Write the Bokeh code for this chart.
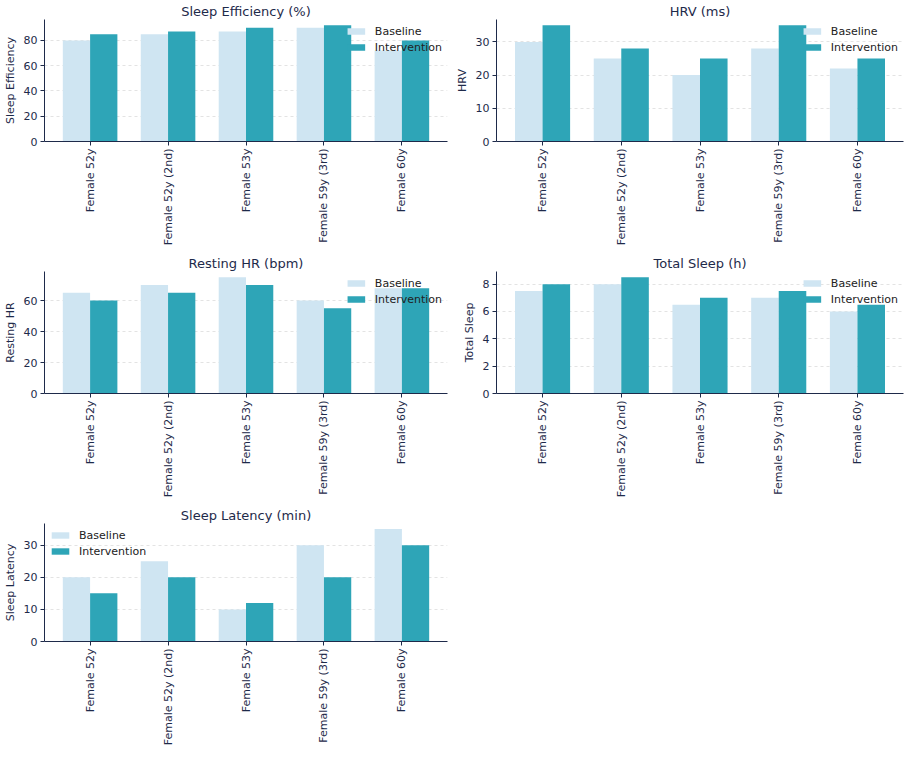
import math
import numpy as np
from bokeh.plotting import figure
from bokeh.layouts import gridplot
from bokeh.models import ColumnDataSource, FixedTicker, Range1d
from bokeh.embed import file_html
from bokeh.resources import INLINE

categories = ["Female 52y", "Female 52y (2nd)", "Female 53y", "Female 59y (3rd)", "Female 60y"]

eff_baseline = [80, 85, 87, 90, 72]
eff_intervention = [85, 87, 90, 92, 80]

hrv_baseline = [30, 25, 20, 28, 22]
hrv_intervention = [35, 28, 25, 35, 25]

hr_baseline = [65, 70, 75, 60, 68]
hr_intervention = [60, 65, 70, 55, 68]

sleep_baseline = [7.5, 8, 6.5, 7, 6]
sleep_intervention = [8, 8.5, 7, 7.5, 6.5]

lat_baseline = [20, 25, 10, 30, 35]
lat_intervention = [15, 20, 12, 20, 30]

eff_ticks = [0, 20, 40, 60, 80]
hrv_ticks = [0, 10, 20, 30]
hr_ticks = [0, 20, 40, 60]
sleep_ticks = [0, 2, 4, 6, 8]
lat_ticks = [0, 10, 20, 30]

BASE_COLOR = "#cfe5f2"
INT_COLOR = "#2ea5b7"
TEXT = "#1e2a4a"
FONT = "DejaVu Sans"
BAR_W = 0.35
PAD = 0.235


def panel(title, ylabel, base, inter, ticks, width, height, left, right, bottom, legend_loc):
    n = len(categories)
    idx = np.arange(n)
    ymax = max(max(base), max(inter)) * 1.05
    p = figure(width=width, height=height, output_backend="svg", toolbar_location=None,
               title=title,
               x_range=Range1d(-BAR_W - PAD, (n - 1) + BAR_W + PAD),
               y_range=Range1d(0, ymax),
               min_border_left=left, min_border_right=right, min_border_top=17,
               min_border_bottom=bottom)
    src = ColumnDataSource(dict(xb=idx - BAR_W / 2, xi=idx + BAR_W / 2, base=base, inter=inter))
    p.vbar(x="xb", top="base", width=BAR_W, source=src, fill_color=BASE_COLOR,
           line_color=None, legend_label="Baseline")
    p.vbar(x="xi", top="inter", width=BAR_W, source=src, fill_color=INT_COLOR,
           line_color=None, legend_label="Intervention")

    p.title.align = "center"
    p.title.text_font = FONT
    p.title.text_font_size = "13px"
    p.title.text_font_style = "normal"
    p.title.text_color = TEXT
    p.title.standoff = 2
    p.title.offset = 0

    p.outline_line_color = None
    p.xgrid.grid_line_color = None
    p.ygrid.grid_line_color = "#dcdcdc"
    p.ygrid.grid_line_dash = "3 3"
    p.ygrid.grid_line_alpha = 0.8
    p.ygrid.ticker = FixedTicker(ticks=ticks)

    p.xaxis.ticker = FixedTicker(ticks=list(range(n)))
    p.xaxis.major_label_overrides = {i: c for i, c in enumerate(categories)}
    p.xaxis.major_label_orientation = math.pi / 2
    p.yaxis.ticker = FixedTicker(ticks=ticks)
    p.yaxis.axis_label = ylabel

    for ax in (p.xaxis, p.yaxis):
        ax.axis_line_color = TEXT
        ax.major_tick_line_color = TEXT
        ax.minor_tick_line_color = None
        ax.major_tick_out = 4
        ax.major_tick_in = 0
        ax.major_label_text_font = FONT
        ax.major_label_text_font_size = "11px"
        ax.major_label_text_color = TEXT
        ax.major_label_standoff = 3
        ax.axis_label_text_font = FONT
        ax.axis_label_text_font_size = "11px"
        ax.axis_label_text_font_style = "normal"
        ax.axis_label_text_color = TEXT
        ax.axis_label_standoff = 4

    lg = p.legend[0]
    lg.location = legend_loc
    lg.border_line_color = None
    lg.background_fill_alpha = 0
    lg.label_text_font = FONT
    lg.label_text_font_size = "11px"
    lg.label_text_color = "#222222"
    lg.glyph_width = 22
    lg.glyph_height = 8
    lg.label_height = 14
    lg.label_standoff = 8
    lg.spacing = 2
    lg.padding = 4
    lg.margin = 5
    return p


p1 = panel("Sleep Efficiency (%)", "Sleep Efficiency", eff_baseline, eff_intervention, eff_ticks,
           452, 252, 36, 5, 111, "top_right")
p2 = panel("HRV (ms)", "HRV", hrv_baseline, hrv_intervention, hrv_ticks,
           452, 252, 42, 1, 111, "top_right")
p3 = panel("Resting HR (bpm)", "Resting HR", hr_baseline, hr_intervention, hr_ticks,
           452, 252, 36, 5, 111, "top_right")
p4 = panel("Total Sleep (h)", "Total Sleep", sleep_baseline, sleep_intervention, sleep_ticks,
           452, 252, 42, 1, 111, "top_right")
p5 = panel("Sleep Latency (min)", "Sleep Latency", lat_baseline, lat_intervention, lat_ticks,
           452, 244, 36, 5, 103, "top_left")

grid = gridplot([[p1, p2], [p3, p4], [p5, None]], toolbar_location=None)

open("out.html", "w").write(file_html(grid, INLINE))
